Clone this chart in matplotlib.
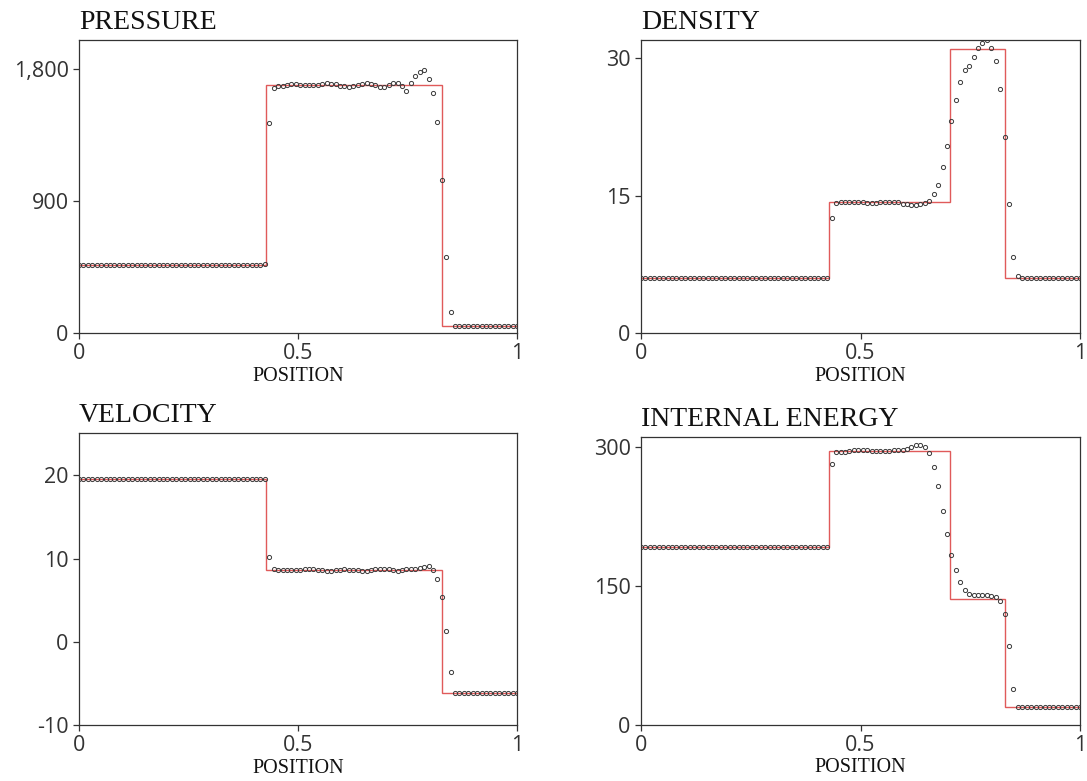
import numpy as np
import matplotlib
matplotlib.use("Agg")
import matplotlib.pyplot as plt
from matplotlib.ticker import FixedLocator, FuncFormatter

plt.rcParams["axes.unicode_minus"] = False

# Cell positions of the numerical solution (100 cells on [0, 1])
position = np.linspace(0.0, 1.0, 100)

# Numerical solution, one value per cell
pressure = [
    460.9, 460.9, 460.9, 460.9, 460.9, 460.9, 460.9, 460.9, 460.9, 460.9,
    460.9, 460.9, 460.9, 460.9, 460.9, 460.9, 460.9, 460.9, 460.9, 460.9,
    460.9, 460.9, 460.9, 460.9, 460.9, 460.9, 460.9, 460.9, 460.9, 460.9,
    460.9, 460.9, 460.9, 460.9, 460.9, 460.9, 460.9, 460.9, 460.9, 460.9,
    460.9, 460.9, 472.0, 1436.0, 1673.0, 1684.0, 1689.0, 1693.0, 1698.0, 1700.0,
    1695.0, 1693.0, 1691.0, 1691.0, 1693.0, 1700.0, 1705.0, 1702.0, 1698.0, 1689.0,
    1684.0, 1682.0, 1686.0, 1695.0, 1702.0, 1707.0, 1702.0, 1693.0, 1682.0, 1678.0,
    1693.0, 1707.0, 1707.0, 1684.0, 1655.0, 1707.0, 1752.0, 1784.0, 1796.0, 1734.0,
    1641.0, 1437.0, 1043.0, 516.0, 145.0, 48.0, 46.1, 46.1, 46.1, 46.1,
    46.1, 46.1, 46.1, 46.1, 46.1, 46.1, 46.1, 46.1, 46.1, 46.1,
]

density = [
    6.0, 6.0, 6.0, 6.0, 6.0, 6.0, 6.0, 6.0, 6.0, 6.0,
    6.0, 6.0, 6.0, 6.0, 6.0, 6.0, 6.0, 6.0, 6.0, 6.0,
    6.0, 6.0, 6.0, 6.0, 6.0, 6.0, 6.0, 6.0, 6.0, 6.0,
    6.0, 6.0, 6.0, 6.0, 6.0, 6.0, 6.0, 6.0, 6.0, 6.0,
    6.0, 6.0, 6.05, 12.6, 14.21, 14.28, 14.28, 14.28, 14.28, 14.28,
    14.28, 14.21, 14.21, 14.21, 14.28, 14.36, 14.36, 14.36, 14.32, 14.14,
    14.06, 13.99, 13.99, 14.06, 14.17, 14.46, 15.15, 16.2, 18.1, 20.4,
    23.2, 25.5, 27.4, 28.7, 29.2, 30.1, 31.1, 31.7, 32.0, 31.15,
    29.67, 26.6, 21.4, 14.05, 8.33, 6.23, 5.99, 5.99, 5.99, 5.99,
    5.99, 5.99, 5.99, 5.99, 5.99, 5.99, 5.99, 5.99, 5.99, 5.99,
]

velocity = [
    19.6, 19.6, 19.6, 19.6, 19.6, 19.6, 19.6, 19.6, 19.6, 19.6,
    19.6, 19.6, 19.6, 19.6, 19.6, 19.6, 19.6, 19.6, 19.6, 19.6,
    19.6, 19.6, 19.6, 19.6, 19.6, 19.6, 19.6, 19.6, 19.6, 19.6,
    19.6, 19.6, 19.6, 19.6, 19.6, 19.6, 19.6, 19.6, 19.6, 19.6,
    19.6, 19.6, 19.55, 10.25, 8.72, 8.65, 8.63, 8.63, 8.63, 8.65,
    8.68, 8.72, 8.73, 8.70, 8.66, 8.62, 8.56, 8.55, 8.62, 8.66,
    8.72, 8.66, 8.62, 8.58, 8.55, 8.56, 8.62, 8.70, 8.74, 8.74,
    8.70, 8.60, 8.56, 8.62, 8.72, 8.78, 8.80, 8.85, 9.00, 9.08,
    8.65, 7.57, 5.44, 1.32, -3.65, -6.12, -6.2, -6.2, -6.2, -6.2,
    -6.2, -6.2, -6.2, -6.2, -6.2, -6.2, -6.2, -6.2, -6.2, -6.2,
]

internal_energy = [
    192.1, 192.1, 192.1, 192.1, 192.1, 192.1, 192.1, 192.1, 192.1, 192.1,
    192.1, 192.1, 192.1, 192.1, 192.1, 192.1, 192.1, 192.1, 192.1, 192.1,
    192.1, 192.1, 192.1, 192.1, 192.1, 192.1, 192.1, 192.1, 192.1, 192.1,
    192.1, 192.1, 192.1, 192.1, 192.1, 192.1, 192.1, 192.1, 192.1, 192.1,
    192.1, 192.1, 192.1, 281.7, 294.6, 295.3, 295.3, 296.1, 296.8, 296.8,
    296.8, 296.8, 296.4, 296.1, 296.1, 296.1, 296.4, 296.8, 296.8, 297.1,
    298.2, 300.4, 302.0, 302.9, 300.4, 294.0, 278.9, 258.6, 231.1, 205.9,
    184.0, 167.4, 154.7, 146.0, 141.2, 140.9, 140.6, 140.3, 139.9, 138.9,
    137.8, 133.5, 119.4, 84.8, 39.2, 19.8, 19.2, 19.2, 19.2, 19.2,
    19.2, 19.2, 19.2, 19.2, 19.2, 19.2, 19.2, 19.2, 19.2, 19.2,
]

# Exact solution: left shock, contact, right shock
wave_edges = [0.0, 0.4277, 0.7041, 0.8288, 1.0]
exact_pressure = [460.894, 1691.64, 1691.64, 46.095]
exact_density = [5.99924, 14.2823, 31.0426, 5.99242]
exact_velocity = [19.5975, 8.68975, 8.68975, -6.19633]
exact_energy = [192.06, 296.10, 136.24, 19.23]

x_ticks = [0, 0.5, 1]
x_tick_labels = ["0", "0.5", "1"]

W, H = 1087, 781
fig = plt.figure(figsize=(W / 100, H / 100), dpi=100)
fig.patch.set_facecolor("white")


def px_rect(left, top, right, bottom):
    return [left / W, 1 - bottom / H, (right - left) / W, (bottom - top) / H]


panels = [
    ("PRESSURE", pressure, exact_pressure, (0, 2000), [0, 900, 1800],
     px_rect(79, 40, 517, 333)),
    ("DENSITY", density, exact_density, (0, 32), [0, 15, 30],
     px_rect(641, 40, 1080, 333)),
    ("VELOCITY", velocity, exact_velocity, (-10, 25.1), [-10, 0, 10, 20],
     px_rect(79, 433, 517, 725)),
    ("INTERNAL ENERGY", internal_energy, exact_energy, (0, 311), [0, 150, 300],
     px_rect(641, 437, 1080, 725)),
]

axis_color = "#333333"
serif = ["Liberation Serif", "DejaVu Serif"]
sans = ["Open Sans", "DejaVu Sans"]

for title, values, exact, ylim, yticks, rect in panels:
    ax = fig.add_axes(rect)
    ax.stairs(exact, wave_edges, baseline=None, color="#e05a5a", linewidth=1.0,
              zorder=2)
    ax.plot(position, values, linestyle="none", marker="o", markersize=3.0,
            markerfacecolor="none", markeredgecolor="#3a3a3a",
            markeredgewidth=0.7, zorder=3)

    ax.set_xlim(0, 1)
    ax.set_ylim(*ylim)
    ax.xaxis.set_major_locator(FixedLocator(x_ticks))
    ax.set_xticklabels(x_tick_labels)
    ax.yaxis.set_major_locator(FixedLocator(yticks))
    ax.yaxis.set_major_formatter(FuncFormatter(lambda v, _: f"{v:,.0f}"))

    for side in ["left", "bottom", "top", "right"]:
        ax.spines[side].set_color(axis_color)
        ax.spines[side].set_linewidth(0.9)
    ax.tick_params(axis="both", direction="out", length=4.5, width=0.9,
                   color=axis_color, labelcolor=axis_color, pad=3)
    for lab in ax.get_xticklabels() + ax.get_yticklabels():
        lab.set_fontfamily(sans)
        lab.set_fontsize(15.5)

    ax.text(0, 1 + 11 / 293, title, transform=ax.transAxes, ha="left",
            va="baseline", fontsize=20, family=serif, color="#111111")
    ax.text(0.5, -48 / 293, "POSITION", transform=ax.transAxes, ha="center",
            va="baseline", fontsize=14.5, family=serif, color="#111111")

fig.savefig("out.png", dpi=100, facecolor="white")
